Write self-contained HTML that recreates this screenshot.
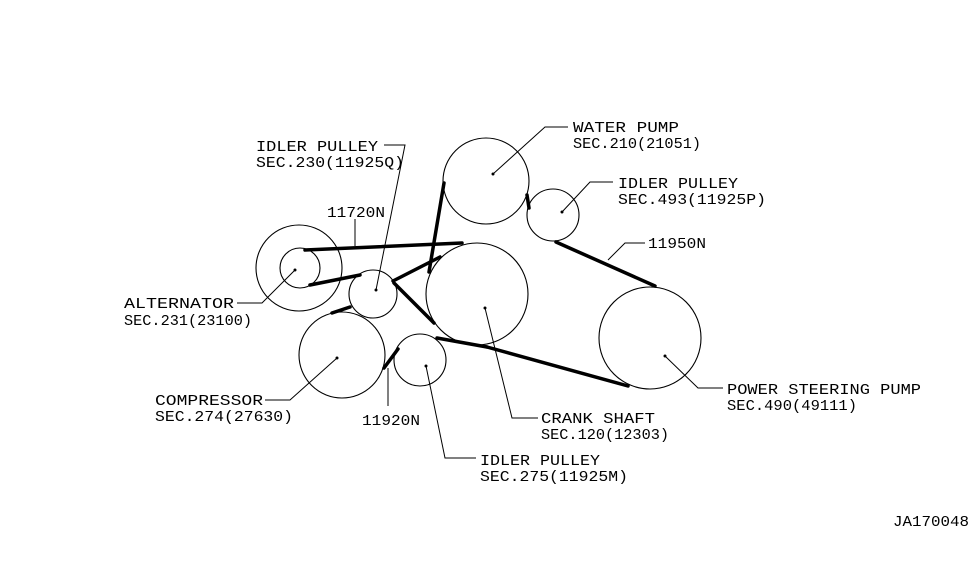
<!DOCTYPE html>
<html><head><meta charset="utf-8"><style>
html,body{margin:0;padding:0;background:#fff}
svg{display:block}
text{font-family:"Liberation Mono",monospace;font-size:15px;fill:#000}
</style></head><body>
<svg width="975" height="566" viewBox="0 0 975 566" xmlns="http://www.w3.org/2000/svg">
<g fill="none" stroke="#000" stroke-width="1.1">
<circle cx="486" cy="181" r="43"/>
<circle cx="553" cy="215" r="26"/>
<circle cx="477" cy="294" r="51"/>
<circle cx="650" cy="338" r="51"/>
<circle cx="299" cy="268" r="43"/>
<circle cx="300" cy="268" r="20"/>
<circle cx="373" cy="294" r="24"/>
<circle cx="342" cy="355" r="43"/>
<circle cx="420" cy="360" r="26"/>
</g>
<g stroke="#000" stroke-width="3.5" stroke-linecap="round" fill="none">
<line x1="305" y1="250" x2="462" y2="243"/>
<line x1="310" y1="285" x2="360" y2="275"/>
<line x1="393" y1="281" x2="440" y2="257"/>
<line x1="394" y1="283" x2="434" y2="323"/>
<line x1="332" y1="313" x2="350" y2="307"/>
<line x1="384" y1="368" x2="398" y2="349"/>
<line x1="444" y1="183" x2="429" y2="272"/>
<line x1="527" y1="195" x2="529" y2="208"/>
<line x1="556" y1="242" x2="655" y2="286"/>
<line x1="437" y1="338" x2="487" y2="347"/>
<line x1="487" y1="347" x2="628" y2="386"/>
</g>
<g fill="#000">
<circle cx="493" cy="174" r="1.5"/><circle cx="562" cy="212" r="1.5"/>
<circle cx="485" cy="308" r="1.5"/><circle cx="665" cy="356" r="1.5"/>
<circle cx="295" cy="270" r="1.5"/><circle cx="376" cy="290" r="1.5"/>
<circle cx="337" cy="358" r="1.5"/><circle cx="426" cy="366" r="1.5"/>
</g>
<g stroke="#000" stroke-width="1" fill="none">
<polyline points="384,145 405,145 376,290"/>
<line x1="355" y1="219" x2="355" y2="246"/>
<polyline points="237,303 262,303 295,270"/>
<polyline points="265,400 290,400 337,358"/>
<line x1="388" y1="406" x2="388" y2="368"/>
<polyline points="476,458 445,458 426,366"/>
<polyline points="538,418 512,418 485,308"/>
<polyline points="723,388 698,388 665,356"/>
<polyline points="568,127 545,127 493,174"/>
<polyline points="613,182 590,182 562,212"/>
<polyline points="645,243 625,243 608,260"/>
</g>
<text x="256" y="151" textLength="122" lengthAdjust="spacingAndGlyphs">IDLER PULLEY</text>
<text x="256" y="167" textLength="148" lengthAdjust="spacingAndGlyphs">SEC.230(11925Q)</text>
<text x="327" y="217" textLength="58" lengthAdjust="spacingAndGlyphs">11720N</text>
<text x="124" y="308" textLength="110" lengthAdjust="spacingAndGlyphs">ALTERNATOR</text>
<text x="124" y="325" textLength="128" lengthAdjust="spacingAndGlyphs">SEC.231(23100)</text>
<text x="155" y="405" textLength="108" lengthAdjust="spacingAndGlyphs">COMPRESSOR</text>
<text x="155" y="421" textLength="138" lengthAdjust="spacingAndGlyphs">SEC.274(27630)</text>
<text x="362" y="425" textLength="58" lengthAdjust="spacingAndGlyphs">11920N</text>
<text x="480" y="465" textLength="120" lengthAdjust="spacingAndGlyphs">IDLER PULLEY</text>
<text x="480" y="481" textLength="148" lengthAdjust="spacingAndGlyphs">SEC.275(11925M)</text>
<text x="541" y="423" textLength="114" lengthAdjust="spacingAndGlyphs">CRANK SHAFT</text>
<text x="541" y="439" textLength="128" lengthAdjust="spacingAndGlyphs">SEC.120(12303)</text>
<text x="727" y="394" textLength="194" lengthAdjust="spacingAndGlyphs">POWER STEERING PUMP</text>
<text x="727" y="410" textLength="130" lengthAdjust="spacingAndGlyphs">SEC.490(49111)</text>
<text x="573" y="132" textLength="106" lengthAdjust="spacingAndGlyphs">WATER PUMP</text>
<text x="573" y="148" textLength="128" lengthAdjust="spacingAndGlyphs">SEC.210(21051)</text>
<text x="618" y="188" textLength="120" lengthAdjust="spacingAndGlyphs">IDLER PULLEY</text>
<text x="618" y="204" textLength="148" lengthAdjust="spacingAndGlyphs">SEC.493(11925P)</text>
<text x="648" y="248" textLength="58" lengthAdjust="spacingAndGlyphs">11950N</text>
<text x="893" y="526" textLength="76" lengthAdjust="spacingAndGlyphs">JA170048</text>
</svg>
</body></html>
